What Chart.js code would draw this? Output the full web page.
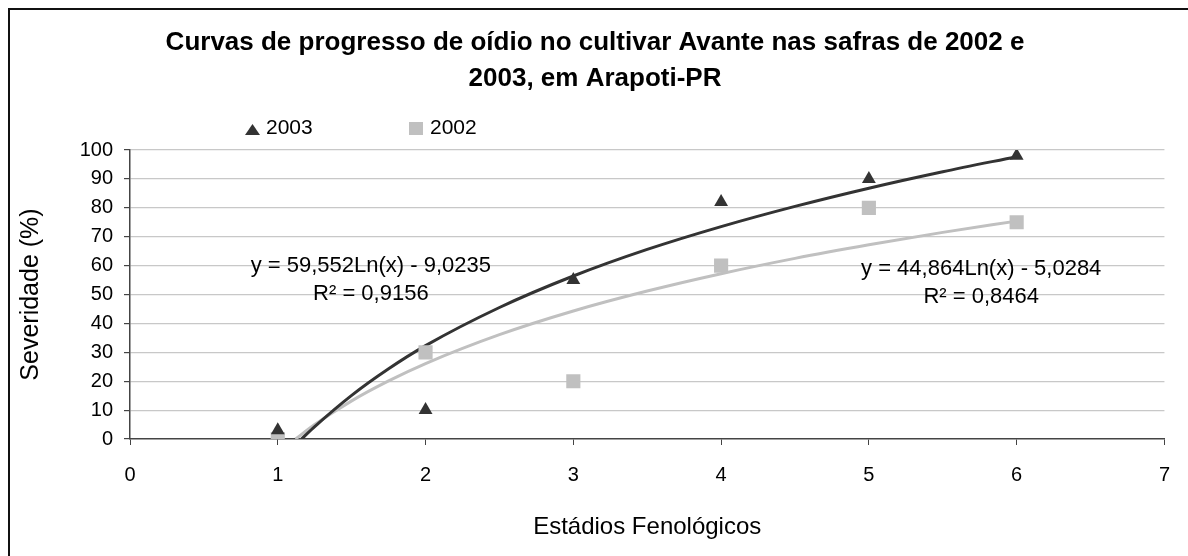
<!DOCTYPE html>
<html>
<head>
<meta charset="utf-8">
<script src="https://cdn.jsdelivr.net/npm/chart.js@4.4.1/dist/chart.umd.min.js"></script>
<style>
  html, body { margin: 0; padding: 0; background: #fff; }
  #wrap { width: 1188px; height: 556px; }
</style>
</head>
<body>
<div id="wrap"><canvas id="myChart"></canvas></div>
<script>
    // values
    var estadios = [1, 2, 3, 4, 5, 6];
    var sev2003 = [3, 10, 55, 82, 90, 98];
    var sev2002 = [0, 30, 20, 60, 80, 75];

    // logarithmic trendlines as they appear in the figure
    var trendX2003 = [1.16, 1.25, 1.5, 1.75, 2, 2.5, 3, 3.5, 4, 4.5, 5, 5.5, 6];
    var trendY2003 = [0, 4.3, 15.1, 24.3, 32.3, 45.5, 56.4, 65.6, 73.5, 80.5, 86.8, 92.5, 97.7];
    var trendX2002 = [1.12, 1.25, 1.5, 1.75, 2, 2.5, 3, 3.5, 4, 4.5, 5, 5.5, 6];
    var trendY2002 = [0, 5.0, 13.2, 20.1, 26.1, 36.1, 44.3, 51.2, 57.2, 62.5, 67.2, 71.5, 75.4];

    var seriesNames = ['2003', '2002'];
    var equations = ['y = 59,552Ln(x) - 9,0235', 'y = 44,864Ln(x) - 5,0284'];
    var rSquared = ['R² = 0,9156', 'R² = 0,8464'];

    var dark = '#333333';
    var light = '#c0c0c0';
    var fontFamily = "'Liberation Sans', Arial, sans-serif";

    function pairs(xs, ys) {
        return xs.map(function (x, i) { return { x: x, y: ys[i] }; });
    }

    function drawMarker(ctx, style, cx, cy, color) {
        ctx.fillStyle = color;
        ctx.beginPath();
        if (style === 'triangle') {
            ctx.moveTo(cx, cy - 6);
            ctx.lineTo(cx + 7.5, cy + 5);
            ctx.lineTo(cx - 7.5, cy + 5);
            ctx.closePath();
        } else {
            ctx.rect(cx - 7, cy - 6.5, 14, 13);
        }
        ctx.fill();
    }

    // border, legend and trendline labels
    var extras = {
        id: 'extras',
        afterDraw: function (chart) {
            var ctx = chart.ctx;
            var xs = chart.scales.x, ys = chart.scales.y;
            ctx.save();
            ctx.strokeStyle = '#111';
            ctx.lineWidth = 2;
            ctx.strokeRect(9, 9, 1400, 1000);

            ctx.font = '21px ' + fontFamily;
            ctx.textBaseline = 'alphabetic';
            ctx.textAlign = 'left';
            drawMarker(ctx, 'triangle', 252.5, 130, dark);
            ctx.fillStyle = '#000';
            ctx.fillText(seriesNames[0], 266, 134);
            drawMarker(ctx, 'rect', 416, 128.5, light);
            ctx.fillStyle = '#000';
            ctx.fillText(seriesNames[1], 430, 134);

            ctx.font = '22px ' + fontFamily;
            ctx.textAlign = 'center';
            var lx = [1.63, 5.76], ly = [57.9, 56.9];
            for (var i = 0; i < 2; i++) {
                var px = xs.getPixelForValue(lx[i]);
                ctx.fillText(equations[i], px, ys.getPixelForValue(ly[i]));
                ctx.fillText(rSquared[i], px, ys.getPixelForValue(ly[i] - 9.9));
            }
            ctx.restore();
        }
    };

    var ctx = document.getElementById('myChart').getContext('2d');
    var myChart = new Chart(ctx, {
        type: 'scatter',
        data: {
            datasets: [
                {
                    label: seriesNames[0],
                    data: pairs(estadios, sev2003),
                    pointStyle: 'triangle',
                    pointRadius: 8,
                    pointBackgroundColor: dark,
                    pointBorderWidth: 0,
                    showLine: false
                },
                {
                    label: seriesNames[1],
                    data: pairs(estadios, sev2002),
                    pointStyle: 'rect',
                    pointRadius: 10,
                    pointBackgroundColor: light,
                    pointBorderWidth: 0,
                    showLine: false
                },
                {
                    label: 'Log. (2003)',
                    data: pairs(trendX2003, trendY2003),
                    showLine: true,
                    borderColor: dark,
                    borderWidth: 3,
                    pointRadius: 0,
                    cubicInterpolationMode: 'monotone'
                },
                {
                    label: 'Log. (2002)',
                    data: pairs(trendX2002, trendY2002),
                    showLine: true,
                    borderColor: light,
                    borderWidth: 3,
                    pointRadius: 0,
                    cubicInterpolationMode: 'monotone'
                }
            ]
        },
        options: {
            responsive: true,
            maintainAspectRatio: false,
            animation: false,
            layout: { padding: { left: 10, right: 8, top: 10, bottom: 0 } },
            plugins: {
                legend: { display: false },
                tooltip: { enabled: false },
                title: {
                    display: true,
                    text: ['Curvas de progresso de oídio no cultivar Avante nas safras de 2002 e',
                           '2003, em Arapoti-PR'],
                    color: '#000',
                    font: { family: fontFamily, size: 26, weight: 'bold', lineHeight: 1.385 },
                    padding: { top: 15, bottom: 53 }
                }
            },
            scales: {
                x: {
                    type: 'linear',
                    min: 0,
                    max: 7,
                    ticks: { stepSize: 1, padding: 18, color: '#000', font: { family: fontFamily, size: 20 } },
                    grid: { drawOnChartArea: false, drawTicks: true, tickLength: 6, tickColor: '#444' },
                    border: { color: '#444', width: 1.5 },
                    title: {
                        display: true,
                        text: 'Estádios Fenológicos',
                        color: '#000',
                        font: { family: fontFamily, size: 24 },
                        padding: { top: 0, bottom: 14 }
                    },
                    afterFit: function (scale) { scale.height = 117; }
                },
                y: {
                    min: 0,
                    max: 100,
                    ticks: { stepSize: 10, padding: 11, color: '#000', font: { family: fontFamily, size: 20 } },
                    grid: {
                        color: function (c) { return c.tick && c.tick.value === 0 ? 'rgba(0,0,0,0)' : '#c8c8c8'; },
                        lineWidth: 1.2,
                        tickLength: 6,
                        tickColor: '#444'
                    },
                    border: { color: '#444', width: 1.5 },
                    title: {
                        display: true,
                        text: 'Severidade (%)',
                        color: '#000',
                        font: { family: fontFamily, size: 25 },
                        padding: { top: 6, bottom: 0 }
                    },
                    afterFit: function (scale) { scale.width = 120; }
                }
            }
        },
        plugins: [extras]
    });
</script>
</body>
</html>
